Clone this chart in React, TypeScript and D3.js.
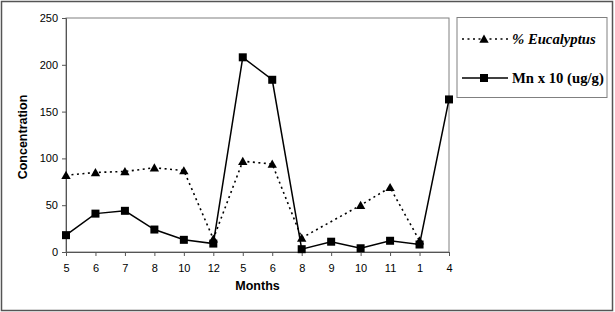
import React from 'react'
import * as d3 from 'd3'

const months = ['5', '6', '7', '8', '10', '12', '5', '6', '8', '9', '10', '11', '1', '4']
const eucalyptus: (number | null)[] = [82, 85, 86, 90, 87, 14, 97, 94, 15, null, 50, 69, 12, null]
const manganese: (number | null)[] = [18, 41, 44, 24, 13, 9, 208, 184, 3, 11, 4, 12, 8, 163]
const yTicks = [0, 50, 100, 150, 200, 250]

const width = 615
const height = 312
const plot = { left: 66, right: 449, top: 18, bottom: 252 }
const sans = 'Liberation Sans, Arial, sans-serif'
const serif = 'Liberation Serif, Times New Roman, serif'

const App = () => {
  const svgRef = React.useRef<SVGSVGElement>(null)

  React.useEffect(() => {
    const svg = d3.select(svgRef.current)
    svg.selectAll('*').remove()

    const x = d3.scalePoint<number>()
      .domain(months.map((_, i) => i))
      .range([plot.left, plot.right])
    const y = d3.scaleLinear().domain([0, 250]).range([plot.bottom, plot.top])

    // outer chart frame
    svg.append('rect')
      .attr('x', 1.5).attr('y', 1.5)
      .attr('width', width - 4).attr('height', height - 3)
      .attr('fill', '#fff').attr('stroke', '#555').attr('stroke-width', 1.5)

    // plot area border
    svg.append('rect')
      .attr('x', plot.left).attr('y', plot.top)
      .attr('width', plot.right - plot.left).attr('height', plot.bottom - plot.top)
      .attr('fill', 'none').attr('stroke', '#808080').attr('stroke-width', 1)

    const yAxis = svg.append('g')
      .attr('transform', `translate(${plot.left},0)`)
      .call(d3.axisLeft(y).tickValues(yTicks).tickSize(4).tickPadding(4))
    yAxis.select('.domain').attr('stroke', '#555')
    yAxis.selectAll('.tick line').attr('stroke', '#555')
    yAxis.selectAll('text')
      .style('font-family', sans)
      .attr('font-size', 11).attr('fill', '#000')

    const xAxis = svg.append('g')
      .attr('transform', `translate(0,${plot.bottom})`)
      .call(d3.axisBottom(x).tickFormat((i) => months[i]).tickSize(4).tickPadding(8).tickSizeOuter(0))
    xAxis.select('.domain').attr('stroke', '#555')
    xAxis.selectAll('.tick line').attr('stroke', '#555')
    xAxis.selectAll('text')
      .style('font-family', sans)
      .attr('font-size', 11).attr('fill', '#000')

    svg.append('text')
      .attr('x', (plot.left + plot.right) / 2).attr('y', 290)
      .attr('text-anchor', 'middle')
      .style('font-family', sans)
      .attr('font-size', 12.5).attr('font-weight', 'bold')
      .text('Months')

    svg.append('text')
      .attr('transform', `translate(27,${(plot.top + plot.bottom) / 2 + 2}) rotate(-90)`)
      .attr('text-anchor', 'middle')
      .style('font-family', sans)
      .attr('font-size', 12.5).attr('font-weight', 'bold')
      .text('Concentration')

    const toPoints = (vals: (number | null)[]) => vals
      .map((v, i) => [i, v] as [number, number | null])
      .filter((d) => d[1] !== null) as [number, number][]

    const line = d3.line<[number, number]>()
      .x((d) => x(d[0]) as number)
      .y((d) => y(d[1]))

    const triangle = d3.symbol().type(d3.symbolTriangle).size(38)

    const eucPts = toPoints(eucalyptus)
    const mnPts = toPoints(manganese)

    svg.append('path')
      .datum(eucPts)
      .attr('fill', 'none').attr('stroke', '#000')
      .attr('stroke-width', 1.6).attr('stroke-dasharray', '2,3.5')
      .attr('d', line)

    svg.append('path')
      .datum(mnPts)
      .attr('fill', 'none').attr('stroke', '#000').attr('stroke-width', 1.5)
      .attr('d', line)

    svg.append('g').selectAll('path')
      .data(eucPts)
      .join('path')
      .attr('transform', (d) => `translate(${x(d[0])},${y(d[1]) + 1})`)
      .attr('d', triangle)
      .attr('fill', '#000')

    svg.append('g').selectAll('rect')
      .data(mnPts)
      .join('rect')
      .attr('x', (d) => (x(d[0]) as number) - 4)
      .attr('y', (d) => y(d[1]) - 4)
      .attr('width', 8).attr('height', 8)
      .attr('fill', '#000')

    // legend
    const legend = svg.append('g')
    legend.append('rect')
      .attr('x', 457).attr('y', 17.5).attr('width', 150).attr('height', 80)
      .attr('fill', '#fff').attr('stroke', '#808080')

    legend.append('line')
      .attr('x1', 462).attr('x2', 508).attr('y1', 39).attr('y2', 39)
      .attr('stroke', '#000').attr('stroke-width', 1.6).attr('stroke-dasharray', '2,3.5')
    legend.append('path')
      .attr('transform', 'translate(484,40)')
      .attr('d', triangle)
      .attr('fill', '#000')
    legend.append('text')
      .attr('x', 512).attr('y', 44)
      .style('font-family', serif)
      .attr('font-size', 14.7).attr('font-weight', 'bold').attr('font-style', 'italic')
      .text('% Eucalyptus')

    legend.append('line')
      .attr('x1', 462).attr('x2', 508).attr('y1', 78).attr('y2', 78)
      .attr('stroke', '#000').attr('stroke-width', 1.5)
    legend.append('rect')
      .attr('x', 480).attr('y', 74).attr('width', 8).attr('height', 8)
      .attr('fill', '#000')
    legend.append('text')
      .attr('x', 512).attr('y', 83)
      .style('font-family', serif)
      .attr('font-size', 14.7).attr('font-weight', 'bold')
      .text('Mn x 10 (ug/g)')
  }, [])

  return (
    <svg
      ref={svgRef}
      width={width}
      height={height}
      style={{ position: 'absolute', top: 0, left: 0, display: 'block' }}
    />
  )
}

export default App
